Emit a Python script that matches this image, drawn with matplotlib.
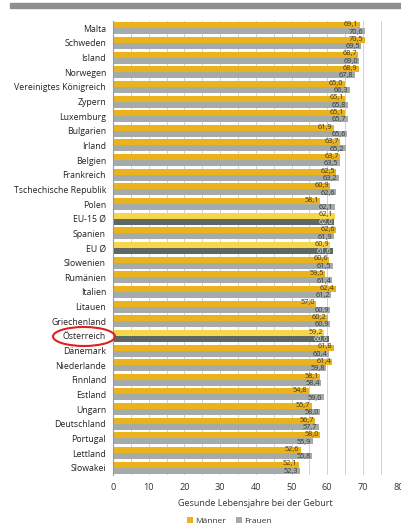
import numpy as np
import matplotlib
matplotlib.use("Agg")
import matplotlib.pyplot as plt
from matplotlib.patches import Rectangle, Ellipse

plt.rcParams['font.family'] = ['Open Sans', 'DejaVu Sans']

countries = ["Malta", "Schweden", "Island", "Norwegen", "Vereinigtes Königreich",
             "Zypern", "Luxemburg", "Bulgarien", "Irland", "Belgien", "Frankreich",
             "Tschechische Republik", "Polen", "EU-15 Ø", "Spanien", "EU Ø",
             "Slowenien", "Rumänien", "Italien", "Litauen", "Griechenland",
             "Österreich", "Dänemark", "Niederlande", "Finnland", "Estland",
             "Ungarn", "Deutschland", "Portugal", "Lettland", "Slowakei"]
maenner = [69.1, 70.5, 68.7, 68.9, 65.0, 65.1, 65.1, 61.9, 63.7, 63.7, 62.5,
           60.9, 58.1, 62.1, 62.6, 60.9, 60.6, 59.5, 62.4, 57.0, 60.2,
           59.2, 61.8, 61.4, 58.1, 54.8, 55.7, 56.7, 58.0, 52.6, 52.1]
frauen = [70.6, 69.5, 69.0, 67.8, 66.3, 65.8, 65.7, 65.6, 65.2, 63.5, 63.2,
          62.6, 62.1, 62.0, 61.9, 61.6, 61.5, 61.4, 61.2, 60.9, 60.9,
          60.6, 60.4, 59.8, 58.4, 59.0, 58.0, 57.7, 55.9, 55.8, 52.3]
highlight = ["EU-15 Ø", "EU Ø", "Österreich"]

YEL, GRY = "#EBB31B", "#A5ABA8"
YEL_HI, GRY_HI = "#F7D64E", "#5E6863"

fig = plt.figure(figsize=(4.01, 5.27), dpi=100)
ax = fig.add_axes([113 / 401, 1 - 475 / 527, 285.6 / 401, 454 / 527])

y = np.arange(len(countries))
h = 0.41
cm = [YEL_HI if c in highlight else YEL for c in countries]
cf = [GRY_HI if c in highlight else GRY for c in countries]
ax.barh(y - h / 2, maenner, height=h, color=cm, zorder=2)
ax.barh(y + h / 2, frauen, height=h, color=cf, zorder=2)

for i, c in enumerate(countries):
    ax.text(maenner[i] - 0.4, i - h / 2 - 0.05, f"{maenner[i]:.1f}".replace(".", ","),
            ha="right", va="center", fontsize=5.3, color="#3a3320", zorder=4)
    tc = "#e8ecea" if c in highlight else "#33383a"
    ax.text(frauen[i] - 0.4, i + h / 2 + 0.05, f"{frauen[i]:.1f}".replace(".", ","),
            ha="right", va="center", fontsize=5.3, color=tc, zorder=4)

ax.set_xlim(0, 80)
ax.set_ylim(len(countries) - 0.5, -0.5)
ax.set_xticks(np.arange(0, 81, 10))
ax.set_xticks(np.arange(5, 80, 10), minor=True)
ax.grid(axis="x", which="both", color="#cfd2d0", lw=0.7, zorder=3)
ax.set_yticks(y)
ax.set_yticklabels(countries, fontsize=6.3, color="#222222")
ax.tick_params(axis="y", length=0, pad=5)
ax.tick_params(axis="x", which="both", length=0, pad=6, labelsize=6.6, colors="#333333")
for s in ["top", "right", "bottom"]:
    ax.spines[s].set_visible(False)
ax.spines["left"].set_color("#9a9a9a")
ax.spines["left"].set_linewidth(0.8)
ax.set_xlabel("Gesunde Lebensjahre bei der Geburt", fontsize=6.5, color="#333333", labelpad=5)

# legend
hm = ax.barh([0], [0], color=YEL, label="Männer")
hf = ax.barh([0], [0], color=GRY, label="Frauen")
fig.legend(handles=[hm, hf], loc="center", bbox_to_anchor=(229 / 401, 1 - 521 / 527),
           ncol=2, frameon=False, fontsize=6, handlelength=0.8, handleheight=0.8,
           handletextpad=0.2, columnspacing=1.2, labelcolor="#333333")

# grey band at top
fig.patches.append(Rectangle((10 / 401, 1 - 8 / 527), 391 / 401, 5 / 527,
                             transform=fig.transFigure, color="#8f8f8f", zorder=5))
# red ellipse around Österreich
fig.patches.append(Ellipse((84 / 401, 1 - 336.5 / 527), 62 / 401, 19 / 527,
                           transform=fig.transFigure, fill=False, ec="#e02020", lw=1.5, zorder=6))

fig.savefig("out.png", dpi=100, facecolor="white")
